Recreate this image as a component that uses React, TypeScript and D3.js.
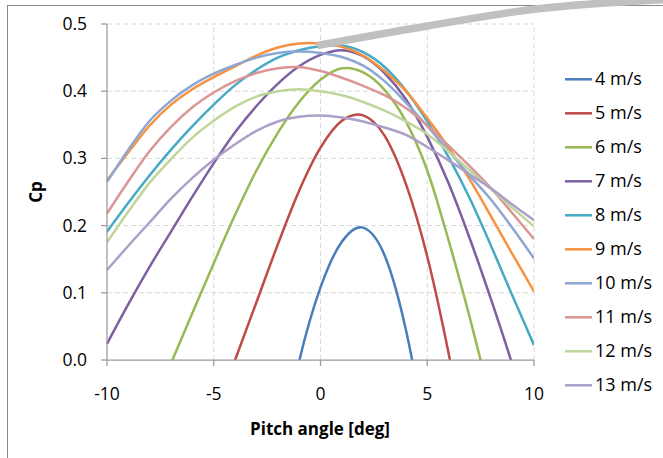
import React from "react";
import * as d3 from "d3";

const pitch = [-10, -9, -8, -7, -6, -5, -4, -3, -2, -1, 0, 1, 2, 3, 4, 5, 6, 7, 8, 9, 10];

const seriesNames = ["4 m/s", "5 m/s", "6 m/s", "7 m/s", "8 m/s", "9 m/s", "10 m/s", "11 m/s", "12 m/s", "13 m/s"];
const seriesColors = ["#4A7EBB", "#BE4B48", "#98B954", "#7D60A0", "#46AAC5", "#F69240", "#8EA7D2", "#D99694", "#BFD69A", "#ADA0C8"];

const cp4 = [-1.6, -1.4, -1.2, -1.0, -0.82, -0.66, -0.52, -0.34, -0.16, -0.002, 0.108, 0.176, 0.197, 0.156, 0.045, -0.13, -0.36, -0.62, -0.9, -1.2, -1.5];
const cp5 = [-0.76, -0.6, -0.45, -0.32, -0.2, -0.09, 0.0, 0.086, 0.172, 0.252, 0.316, 0.356, 0.364, 0.334, 0.262, 0.154, 0.01, -0.16, -0.35, -0.56, -0.8];
const cp6 = [-0.26, -0.17, -0.085, -0.005, 0.07, 0.144, 0.216, 0.282, 0.338, 0.384, 0.417, 0.434, 0.428, 0.402, 0.355, 0.282, 0.178, 0.062, -0.065, -0.2, -0.34];
const cp7 = [0.024, 0.083, 0.139, 0.191, 0.243, 0.293, 0.339, 0.378, 0.411, 0.437, 0.454, 0.461, 0.452, 0.427, 0.388, 0.332, 0.263, 0.18, 0.089, -0.008, -0.11];
const cp8 = [0.191, 0.234, 0.275, 0.313, 0.348, 0.38, 0.409, 0.432, 0.45, 0.461, 0.467, 0.468, 0.458, 0.436, 0.401, 0.355, 0.302, 0.24, 0.169, 0.095, 0.022];
const cp9 = [0.267, 0.309, 0.349, 0.38, 0.403, 0.421, 0.437, 0.453, 0.465, 0.471, 0.471, 0.466, 0.453, 0.43, 0.4, 0.36, 0.316, 0.268, 0.213, 0.157, 0.102];
const cp10 = [0.265, 0.313, 0.356, 0.386, 0.409, 0.426, 0.439, 0.45, 0.457, 0.459, 0.457, 0.451, 0.438, 0.415, 0.383, 0.348, 0.311, 0.274, 0.238, 0.196, 0.151];
const cp11 = [0.218, 0.266, 0.311, 0.347, 0.376, 0.398, 0.415, 0.427, 0.434, 0.436, 0.43, 0.42, 0.408, 0.394, 0.375, 0.349, 0.319, 0.288, 0.255, 0.218, 0.18];
const cp12 = [0.175, 0.221, 0.264, 0.299, 0.331, 0.356, 0.377, 0.392, 0.4, 0.403, 0.4, 0.394, 0.384, 0.371, 0.355, 0.336, 0.31, 0.282, 0.254, 0.226, 0.199];
const cp13 = [0.134, 0.17, 0.205, 0.24, 0.271, 0.298, 0.321, 0.341, 0.355, 0.362, 0.364, 0.361, 0.355, 0.346, 0.335, 0.317, 0.297, 0.276, 0.255, 0.231, 0.208];

const seriesValues = [cp4, cp5, cp6, cp7, cp8, cp9, cp10, cp11, cp12, cp13];

const xTicks = [-10, -5, 0, 5, 10];
const yTicks = [0, 0.1, 0.2, 0.3, 0.4, 0.5];

// callout leader (in data units)
const calloutX = [-0.15, 5, 10, 16.5];
const calloutY = [0.468, 0.497, 0.522, 0.537];

const FONT = "'Open Sans', 'Noto Sans', sans-serif";

export default function App() {
  const W = 663, H = 458;
  const x = d3.scaleLinear().domain([-10, 10]).range([107, 534]);
  const y = d3.scaleLinear().domain([0, 0.5]).range([360, 24]);

  const line = d3
    .line<number>()
    .x((_, i) => x(pitch[i]))
    .y((d) => y(d))
    .curve(d3.curveCardinal.tension(0));

  const callout = d3
    .line<number>()
    .x((d) => x(d))
    .y((_, i) => y(calloutY[i]))
    .curve(d3.curveMonotoneX);

  const legendX = 565;
  const legendY0 = 79.3;
  const legendStep = 34;

  return (
    <svg
      width={W}
      height={H}
      style={{ position: "absolute", left: 0, top: 0, background: "#fff" }}
      fontFamily={FONT}
    >
      <defs>
        <clipPath id="plotClip">
          <rect x={100} y={0} width={434} height={360} />
        </clipPath>
      </defs>
      <rect x={7.5} y={5.5} width={800} height={800} fill="#fff" stroke="#888" strokeWidth={1} />

      {/* gridlines */}
      {yTicks.filter((t) => t > 0).map((t) => (
        <line key={"gy" + t} x1={x(-10)} x2={x(10)} y1={y(t)} y2={y(t)} stroke="#d9d9d9" strokeDasharray="5,3" />
      ))}
      {xTicks.filter((t) => t > -10).map((t) => (
        <line key={"gx" + t} x1={x(t)} x2={x(t)} y1={y(0)} y2={y(0.5)} stroke="#d9d9d9" strokeDasharray="5,3" />
      ))}

      {/* series */}
      <g clipPath="url(#plotClip)">
        {seriesValues.map((vals, i) => (
          <path key={seriesNames[i]} d={line(vals) || ""} fill="none" stroke={seriesColors[i]} strokeWidth={2.5} />
        ))}
      </g>

      {/* axes */}
      <line x1={x(-10)} x2={x(-10)} y1={y(0.5)} y2={y(0)} stroke="#9a9a9a" strokeWidth={1.25} />
      <line x1={x(-10)} x2={x(10)} y1={y(0)} y2={y(0)} stroke="#9a9a9a" strokeWidth={1.25} />
      {yTicks.map((t) => (
        <g key={"yt" + t}>
          <line x1={x(-10) - 6} x2={x(-10)} y1={y(t)} y2={y(t)} stroke="#9a9a9a" strokeWidth={1.25} />
          <text x={87} y={y(t) + 6} textAnchor="end" fontSize={17.5} fill="#000">
            {d3.format(".1f")(t)}
          </text>
        </g>
      ))}
      {xTicks.map((t) => (
        <g key={"xt" + t}>
          <line x1={x(t)} x2={x(t)} y1={y(0)} y2={y(0) + 6} stroke="#9a9a9a" strokeWidth={1.25} />
          <text x={x(t)} y={400} textAnchor="middle" fontSize={17.5} fill="#000">
            {String(t)}
          </text>
        </g>
      ))}

      {/* axis titles */}
      <text x={320} y={435} textAnchor="middle" fontSize={17} fontWeight="bold" fill="#000">
        Pitch angle [deg]
      </text>
      <text
        transform={`translate(42,192) rotate(-90)`}
        textAnchor="middle"
        fontSize={17}
        fontWeight="bold"
        fill="#000"
      >
        Cp
      </text>

      {/* legend */}
      {seriesNames.map((name, i) => (
        <g key={"lg" + name} transform={`translate(${legendX},${legendY0 + i * legendStep})`}>
          <line x1={0} x2={27} y1={0} y2={0} stroke={seriesColors[i]} strokeWidth={2.5} />
          <text x={30} y={6} fontSize={18} fill="#000">
            {name}
          </text>
        </g>
      ))}

      {/* callout leader */}
      <path d={callout(calloutX) || ""} fill="none" stroke="#c0c0c0" strokeWidth={7.5} />
    </svg>
  );
}
